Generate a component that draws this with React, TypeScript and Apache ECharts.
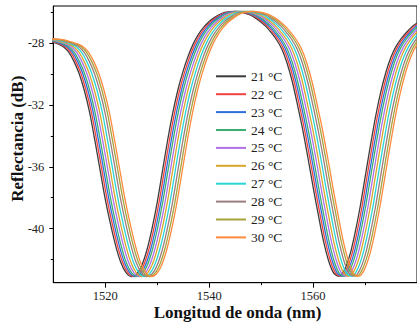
import React, { useEffect, useRef } from "react";
import * as echarts from "echarts";

// Temperatures (legend)
const temperatures = ["21 °C", "22 °C", "23 °C", "24 °C", "25 °C", "26 °C", "27 °C", "28 °C", "29 °C", "30 °C"];

const shiftNm = [0, 0.35, 0.7, 1.05, 1.5, 1.95, 2.45, 2.95, 3.4, 3.8];

// 21 °C reflection spectrum
const wavelength21 = [
  1506, 1507, 1508, 1509, 1510, 1511, 1512, 1513, 1514, 1515, 1516, 1517, 1518, 1519, 1520,
  1521, 1522, 1523, 1524, 1525, 1526, 1527, 1528, 1529, 1530, 1531, 1532, 1533, 1534, 1535,
  1536, 1537, 1538, 1539, 1540, 1541, 1542, 1543, 1544, 1545, 1546, 1547, 1548, 1549, 1550,
  1551, 1552, 1553, 1554, 1555, 1556, 1557, 1558, 1559, 1560, 1561, 1562, 1563, 1564, 1565,
  1566, 1567, 1568, 1569, 1570, 1571, 1572, 1573, 1574, 1575, 1576, 1577, 1578, 1579, 1580,
];
const reflectance21 = [
  -27.72, -27.74, -27.78, -27.85, -27.95, -28.07, -28.25, -28.6, -29.2, -30.0, -31.1, -32.5, -34.3, -36.2, -38.1,
  -39.7, -41.1, -42.2, -42.85, -43.1, -42.95, -42.4, -41.4, -40.0, -38.3, -36.3, -34.3, -32.5, -31.0, -29.8,
  -28.8, -28.0, -27.4, -26.95, -26.6, -26.35, -26.15, -26.02, -25.96, -25.95, -26.0, -26.08, -26.2, -26.4, -26.65,
  -26.95, -27.35, -27.8, -28.4, -29.3, -30.5, -32.0, -33.6, -35.4, -37.3, -39.1, -40.8, -42.1, -42.9, -43.08,
  -42.7, -41.8, -40.4, -38.7, -36.7, -34.7, -32.8, -31.2, -29.9, -28.9, -28.2, -27.7, -27.3, -26.95, -26.7,
];

// Axis ticks
const xMajorTicks = [1520, 1540, 1560];
const xMinorTicks = [1530, 1550, 1570];
const yMajorTicks = [-40, -36, -32, -28];
const yMinorTicks = [-42, -38, -34, -30, -26];

const colors = ["#3c3c3c", "#f2413f", "#2e6fdb", "#3dae72", "#b070e8", "#d8a72a", "#27d5d5", "#9c7c7c", "#a6a33c", "#ff8a3d"];

const FONT = "'Liberation Serif', 'Times New Roman', serif";

export default function App() {
  const ref = useRef<HTMLDivElement>(null);
  useEffect(() => {
    if (!ref.current) return;
    const chart = echarts.init(ref.current, undefined, { renderer: "svg" });
    const series = temperatures.map((t, k) => ({
      name: t,
      type: "line",
      xAxisIndex: 0,
      yAxisIndex: 0,
      symbol: "none",
      smooth: 0.3,
      clip: true,
      lineStyle: { width: 1.3, color: colors[k] },
      itemStyle: { color: colors[k] },
      data: wavelength21.map((w, i) => [w + shiftNm[k], reflectance21[i]]),
    }));
    const axisCommon = {
      type: "value",
      axisLine: { show: true, lineStyle: { color: "#000", width: 1 } },
      splitLine: { show: false },
    };
    chart.setOption({
      animation: false,
      grid: { left: 53.3, top: 6, right: -8.7, bottom: 41.3, show: true, borderColor: "#000", borderWidth: 1 },
      xAxis: [
        {
          ...axisCommon,
          min: 1510,
          max: 1580,
          position: "bottom",
          axisTick: { show: true, length: 5, customValues: xMajorTicks, lineStyle: { color: "#000" } },
          axisLabel: {
            customValues: xMajorTicks,
            margin: 6.5,
            color: "#222",
            fontFamily: FONT,
            fontSize: 12.5,
            formatter: (v: number) => String(v),
          },
        },
        {
          ...axisCommon,
          min: 1510,
          max: 1580,
          position: "bottom",
          axisLine: { show: false },
          axisTick: { show: true, length: 2.5, customValues: xMinorTicks, lineStyle: { color: "#000" } },
          axisLabel: { show: false },
        },
      ],
      yAxis: [
        {
          ...axisCommon,
          min: -43.5,
          max: -25.6,
          position: "left",
          axisTick: { show: true, length: 4, customValues: yMajorTicks, lineStyle: { color: "#000" } },
          axisLabel: {
            customValues: yMajorTicks,
            margin: 9,
            color: "#222",
            fontFamily: FONT,
            fontSize: 12.5,
            formatter: (v: number) => String(v),
          },
        },
        {
          ...axisCommon,
          min: -43.5,
          max: -25.6,
          position: "left",
          axisLine: { show: false },
          axisTick: { show: true, length: 2.5, customValues: yMinorTicks, lineStyle: { color: "#000" } },
          axisLabel: { show: false },
        },
      ],
      legend: {
        orient: "vertical",
        left: 216,
        top: 69.3,
        padding: 0,
        icon: "rect",
        itemWidth: 30,
        itemHeight: 2,
        itemGap: 3.9,
        textStyle: { color: "#222", fontFamily: FONT, fontSize: 13.5, lineHeight: 14 },
        data: temperatures,
      },
      graphic: [
        {
          type: "text",
          x: 17.5,
          y: 138.7,
          rotation: Math.PI / 2,
          style: {
            text: "Reflectancia (dB)",
            fontFamily: FONT,
            fontWeight: "bold",
            fontSize: 17,
            fill: "#111",
            textAlign: "center",
            textVerticalAlign: "middle",
          },
        },
        {
          type: "text",
          x: 237.5,
          y: 312.5,
          style: {
            text: "Longitud de onda (nm)",
            fontFamily: FONT,
            fontWeight: "bold",
            fontSize: 17,
            fill: "#111",
            textAlign: "center",
            textVerticalAlign: "middle",
          },
        },
      ],
      series,
    });
    return () => chart.dispose();
  }, []);
  return (
    <div
      ref={ref}
      style={{ position: "fixed", left: 0, top: 0, width: 417, height: 324, background: "#fff" }}
    />
  );
}
